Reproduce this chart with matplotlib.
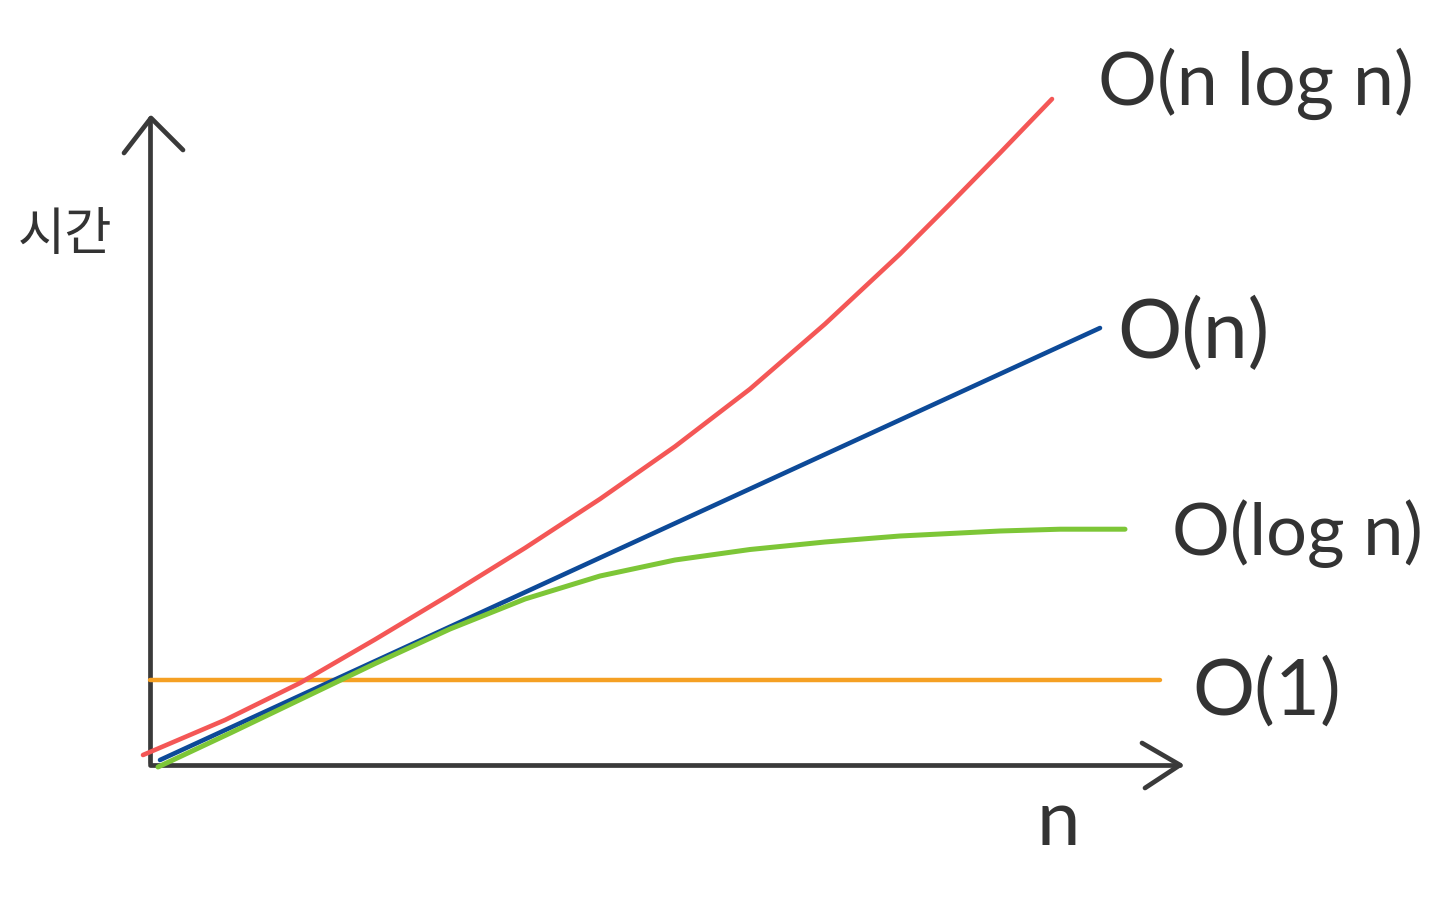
import matplotlib
matplotlib.use("Agg")
import matplotlib.pyplot as plt

# ---- data (n, time) ----
red_n = [-0.7, 7.5, 15, 22.5, 30, 37.5, 45, 52.5, 60, 67.5, 75, 80, 85, 87.5, 90.2]
red_t = [1.0, 4.5, 8.2, 12.55, 17.05, 21.7, 26.6, 31.85, 37.6, 44.1, 51.1, 56.1, 61.2, 63.8, 66.6]

blue_n = [1.0, 95.0]
blue_t = [0.5, 43.7]

green_n = [0.8, 8, 15, 22.5, 30, 37.5, 45, 52.5, 60, 67.5, 75, 85, 91, 97.5]
green_t = [-0.2, 3.18, 6.54, 10.14, 13.6, 16.6, 18.9, 20.5, 21.55, 22.3, 22.9, 23.4, 23.58, 23.58]

orange_n = [0, 101]
orange_t = [8.5, 8.5]

labels = ["O(n log n)", "O(n)", "O(log n)", "O(1)"]
x_label = "n"
y_label = "시간"

fig = plt.figure(figsize=(14.4, 8.97), dpi=100)
ax = fig.add_axes([0, 0, 1, 1])
ax.set_xlim(-15, 129)
ax.set_ylim(-13.2, 76.5)
ax.axis("off")

axis_col = "#3a3a3a"
# axes with hand-drawn arrows
ax.plot([0, 0], [0.2, 64.7], color=axis_col, lw=3.4, solid_capstyle="round")
ax.plot([0, 103], [0, 0], color=axis_col, lw=3.4, solid_capstyle="round")
ax.plot([-2.6, 0.1, 3.3], [61.2, 64.7, 61.5], color=axis_col, lw=3.4,
        solid_capstyle="round", solid_joinstyle="round")
ax.plot([99.2, 103, 99.5], [2.2, 0, -2.3], color=axis_col, lw=3.4,
        solid_capstyle="round", solid_joinstyle="round")

ax.plot(orange_n, orange_t, color="#f5a023", lw=3.2, solid_capstyle="round")
ax.plot(blue_n, blue_t, color="#0d4a98", lw=3.3, solid_capstyle="round")
ax.plot(green_n, green_t, color="#7dc637", lw=3.6, solid_capstyle="round",
        solid_joinstyle="round")
ax.plot(red_n, red_t, color="#f45756", lw=3.3, solid_capstyle="round",
        solid_joinstyle="round")

tc = "#333333"
fam = ["Lato", "DejaVu Sans"]
ax.text(94.8, 66.0, labels[0], fontsize=53, color=tc, family=fam, va="baseline", ha="left")
ax.text(96.7, 40.7, labels[1], fontsize=58, color=tc, family=fam, va="baseline", ha="left")
ax.text(102.2, 21.0, labels[2], fontsize=52, color=tc, family=fam, va="baseline", ha="left")
ax.text(104.2, 5.0, labels[3], fontsize=56, color=tc, family=fam, va="baseline", ha="left")
ax.text(88.6, -8.0, x_label, fontsize=56, color=tc, family=fam, va="baseline", ha="left")
ax.text(-8.5, 53.0, y_label, fontsize=37, color=tc, family=["Noto Sans CJK KR", "DejaVu Sans"],
        va="center", ha="center", weight="medium")

fig.savefig("out.png", dpi=100, facecolor="white")
